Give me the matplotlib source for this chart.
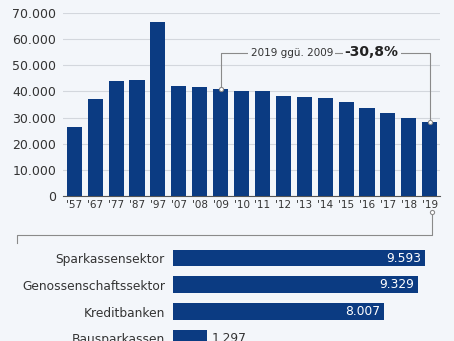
import numpy as np
import matplotlib
matplotlib.use('Agg')
import matplotlib.pyplot as plt

# Top chart: number of bank branches per year
years = ["'57", "'67", "'77", "'87", "'97", "'07", "'08", "'09", "'10",
         "'11", "'12", "'13", "'14", "'15", "'16", "'17", "'18", "'19"]
branches = [26400, 37100, 43800, 44400, 66700, 42000, 41600, 41000, 40300,
            40000, 38300, 38000, 37300, 36000, 33800, 31900, 29800, 28400]
yticks = [0, 10000, 20000, 30000, 40000, 50000, 60000, 70000]
ytick_labels = ['0', '10.000', '20.000', '30.000', '40.000', '50.000', '60.000', '70.000']

# Bottom chart: 2019 by sector
sectors = ['Sparkassensektor', 'Genossenschaftssektor', 'Kreditbanken', 'Bausparkassen']
sector_values = [9593, 9329, 8007, 1297]
sector_labels = ['9.593', '9.329', '8.007', '1.297']

BG = '#f3f6fa'
BAR = '#0b3b82'
GRID = '#d3d7dd'
TXT = '#333333'
LINE = '#8a8a8a'

W, H = 454, 341
fig = plt.figure(figsize=(W / 100, H / 100), dpi=100)
fig.patch.set_facecolor(BG)


def px_axes(left, top, right, bottom):
    return fig.add_axes([left / W, 1 - bottom / H, (right - left) / W, (bottom - top) / H])


# ---- top bar chart ----
ax = px_axes(63, 13, 440, 196)
ax.set_facecolor(BG)
x = np.arange(len(years))
ax.bar(x, branches, width=0.72, color=BAR, zorder=3)
ax.set_xlim(-0.54, 17.49)
ax.set_ylim(0, 70000)
ax.set_yticks(yticks)
ax.set_yticklabels(ytick_labels, fontsize=9, color=TXT)
ax.set_xticks(x)
ax.set_xticklabels(years, fontsize=7.5, color=TXT)
ax.tick_params(length=0, axis='y', pad=5)
ax.tick_params(length=0, axis='x', pad=3)
ax.grid(axis='y', color=GRID, linewidth=0.8, zorder=0)
for s in ['top', 'right', 'left']:
    ax.spines[s].set_visible(False)
ax.spines['bottom'].set_color('#555555')
ax.spines['bottom'].set_linewidth(0.8)

# bracket annotation 2009 -> 2019
i09, i19 = years.index("'09"), years.index("'19")
ytop = 54600
ax.plot([i09, i09, i19, i19], [branches[i09], ytop, ytop, branches[i19]],
        color=LINE, linewidth=0.8, zorder=4, clip_on=False)
ax.plot([i09, i19], [branches[i09], branches[i19]], 'o', ms=3, mfc='white',
        mec=LINE, mew=0.8, zorder=5, linestyle='none')
ax.text(10.4, ytop, '2019 ggü. 2009', ha='center', va='center', fontsize=7.5,
        color=TXT, bbox=dict(facecolor=BG, edgecolor='none', pad=1.5), zorder=6)
ax.text(14.22, ytop + 400, '-30,8%', ha='center', va='center', fontsize=10,
        fontweight='bold', color='#222222',
        bbox=dict(facecolor=BG, edgecolor='none', pad=1.5), zorder=6)

# connector from '19 down to the sector breakdown
fig.add_artist(plt.Line2D([431.7 / W, 431.7 / W, 16.7 / W, 16.7 / W],
                          [1 - 211.7 / H, 1 - 235 / H, 1 - 235 / H, 1 - 243.3 / H],
                          color=LINE, linewidth=0.8))
fig.add_artist(plt.Line2D([431.7 / W], [1 - 211.7 / H], marker='o', ms=3,
                          mfc='white', mec=LINE, mew=0.8))

# ---- bottom horizontal bars ----
ax2 = px_axes(173.3, 244.6, 440, 351.8)
ax2.set_facecolor(BG)
y = np.arange(len(sectors))
ax2.barh(y, sector_values, height=0.63, color=BAR)
ax2.set_xlim(0, 10152)
ax2.set_ylim(3.5, -0.5)
ax2.set_yticks(y)
ax2.set_yticklabels(sectors, fontsize=8.8, color=TXT)
ax2.tick_params(length=0, pad=6)
ax2.set_xticks([])
for s in ax2.spines.values():
    s.set_visible(False)
for yi, v, lab in zip(y, sector_values, sector_labels):
    if v > 3000:
        ax2.text(v - 150, yi, lab, ha='right', va='center', fontsize=8.8, color='white')
    else:
        ax2.text(v + 150, yi, lab, ha='left', va='center', fontsize=8.8, color=TXT)

fig.savefig('out.png', dpi=100, facecolor=BG)
